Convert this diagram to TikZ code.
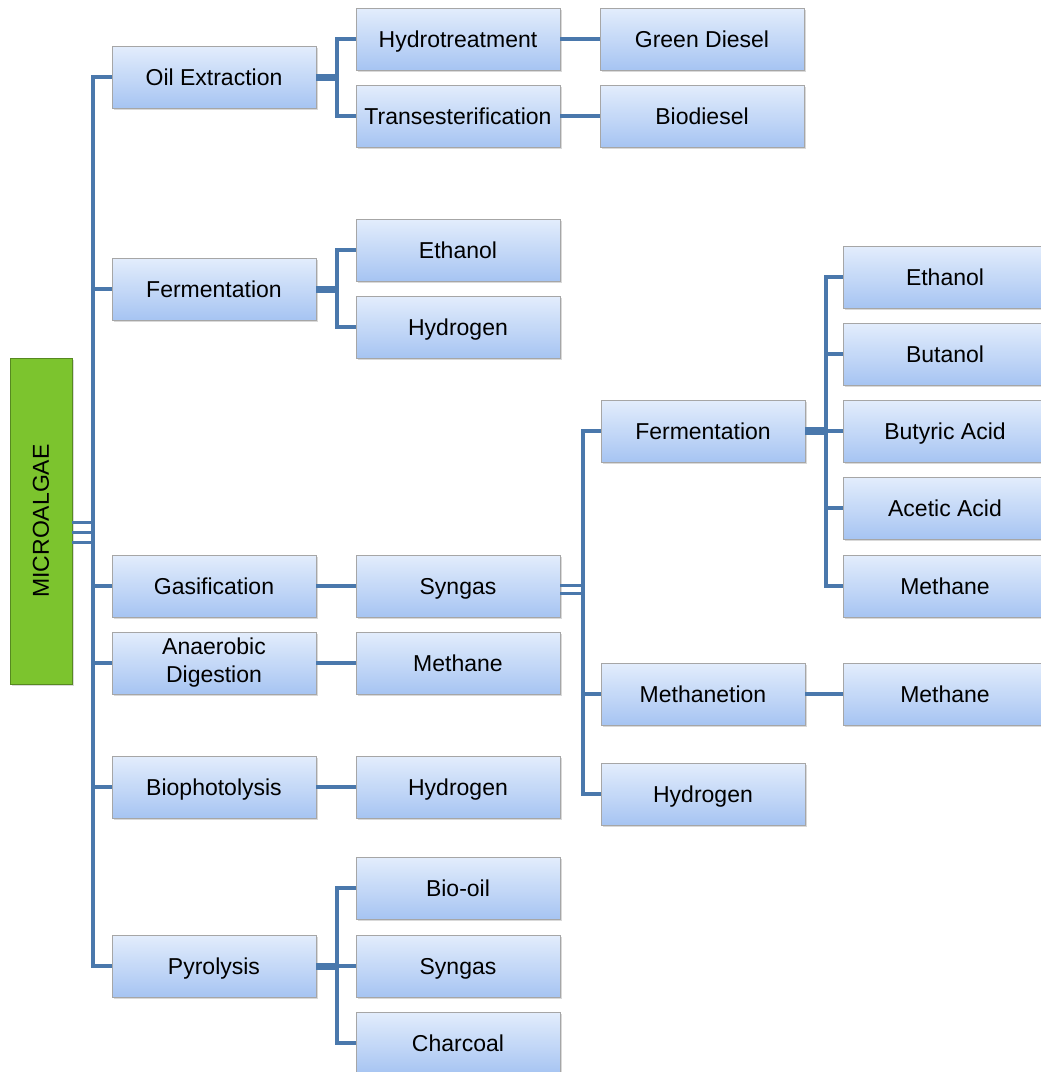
\documentclass[tikz,border=0pt]{standalone}
\usepackage{fontspec}
\usepackage{graphicx}
\setmainfont{Liberation Sans}
\usetikzlibrary{shadows}
\definecolor{linkblue}{HTML}{4A78AC}
\definecolor{boxtop}{HTML}{E3EDFC}
\definecolor{boxbot}{HTML}{A6C4F2}
\definecolor{algae}{HTML}{7CC42E}

\begin{document}
\begin{tikzpicture}[
            x = 0.5pt, y = -0.5pt,
            every node/.style = {font = \fontsize{11.5}{14}\selectfont},
            stage/.style = {draw = gray!70, top color = boxtop, bottom color = boxbot,
                            minimum width = 102pt, minimum height = 31pt, inner sep = 1pt,
                            align = center, text height = 8.3pt, text depth = 0pt,
                            drop shadow = {opacity = 0.3, shadow xshift = 1pt, shadow yshift = -1pt}},
            twoline/.style = {text height = , text depth = },
            source/.style = {draw = algae!70!black, fill = algae,
                             minimum width = 31pt, minimum height = 163pt, inner sep = 0pt,
                             drop shadow = {opacity = 0.3, shadow xshift = 1pt, shadow yshift = -1pt}},
            link/.style = {draw = linkblue, line width = 2pt},
            thinlink/.style = {draw = linkblue, line width = 1.5pt},
            stub/.style = {draw = linkblue, line width = 3.5pt}
            ]
            \useasboundingbox (0,0) rectangle (1040,1072);

            % feedstock
            \node[source] (algae) at (41,521) {\rotatebox{90}{MICROALGAE}};

            % conversion routes
            \node[stage] (oil)   at (214,77)  {Oil Extraction};
            \node[stage] (ferm)  at (214,289) {Fermentation};
            \node[stage] (gasif) at (214,586) {Gasification};
            \node[stage, twoline] (anaer) at (214,663) {Anaerobic\\Digestion};
            \node[stage] (photo) at (214,787) {Biophotolysis};
            \node[stage] (pyro)  at (214,966) {Pyrolysis};

            % second column
            \node[stage] (hydro)    at (458,39)   {Hydrotreatment};
            \node[stage] (trans)    at (458,116)  {Transesterification};
            \node[stage] (ethA)     at (458,250)  {Ethanol};
            \node[stage] (hydA)     at (458,327)  {Hydrogen};
            \node[stage] (syngas)   at (458,586)  {Syngas};
            \node[stage] (methA)    at (458,663)  {Methane};
            \node[stage] (hydB)     at (458,787)  {Hydrogen};
            \node[stage] (biooil)   at (458,888)  {Bio-oil};
            \node[stage] (synB)     at (458,966)  {Syngas};
            \node[stage] (charcoal) at (458,1043) {Charcoal};

            % third column
            \node[stage] (gdiesel)   at (702,39)  {Green Diesel};
            \node[stage] (biodiesel) at (702,116) {Biodiesel};
            \node[stage] (fermB)     at (703,431) {Fermentation};
            \node[stage] (methan)    at (703,694) {Methanetion};
            \node[stage] (hydC)      at (703,794) {Hydrogen};

            % fourth column
            \node[stage] (ethB)    at (945,277) {Ethanol};
            \node[stage] (butanol) at (945,354) {Butanol};
            \node[stage] (butyric) at (945,431) {Butyric Acid};
            \node[stage] (acetic)  at (945,508) {Acetic Acid};
            \node[stage] (methB)   at (945,586) {Methane};
            \node[stage] (methC)   at (945,694) {Methane};

            % bus points
            \coordinate (trunk)   at (93,532);
            \coordinate (oilbus)  at (337,77);
            \coordinate (fermbus) at (337,289);
            \coordinate (pyrobus) at (337,966);
            \coordinate (synbus)  at (583,589);
            \coordinate (fbbus)   at (826,431);

            % microalgae to trunk
            \foreach \dy in {5,0,-5}
                \draw[thinlink] ([yshift=\dy pt-5.5pt]algae.east) -- ([yshift=\dy pt]trunk);
            \foreach \n in {oil, ferm, gasif, anaer, photo, pyro}
                \draw[link] (trunk) |- (\n.west);

            % oil extraction
            \draw[stub] (oil.east) -- (oilbus);
            \draw[link] (oilbus) |- (hydro.west);
            \draw[link] (oilbus) |- (trans.west);
            \draw[link] (hydro) -- (gdiesel);
            \draw[link] (trans) -- (biodiesel);

            % fermentation
            \draw[stub] (ferm.east) -- (fermbus);
            \draw[link] (fermbus) |- (ethA.west);
            \draw[link] (fermbus) |- (hydA.west);

            % single routes
            \draw[link] (gasif) -- (syngas);
            \draw[link] (anaer) -- (methA);
            \draw[link] (photo) -- (hydB);

            % pyrolysis
            \draw[stub] (pyro.east) -- (pyrobus);
            \foreach \n in {biooil, synB, charcoal}
                \draw[link] (pyrobus) |- (\n.west);

            % syngas upgrading
            \foreach \dy in {2,-2}
                \draw[thinlink] ([yshift=\dy pt-1.5pt]syngas.east) -- ([yshift=\dy pt]synbus);
            \foreach \n in {fermB, methan, hydC}
                \draw[link] (synbus) |- (\n.west);
            \draw[link] (methan) -- (methC);

            % syngas fermentation products
            \draw[draw = linkblue, line width = 4pt] (fermB.east) -- (fbbus);
            \foreach \n in {ethB, butanol, butyric, acetic, methB}
                \draw[link] (fbbus) |- (\n.west);
          \end{tikzpicture}
\end{document}
